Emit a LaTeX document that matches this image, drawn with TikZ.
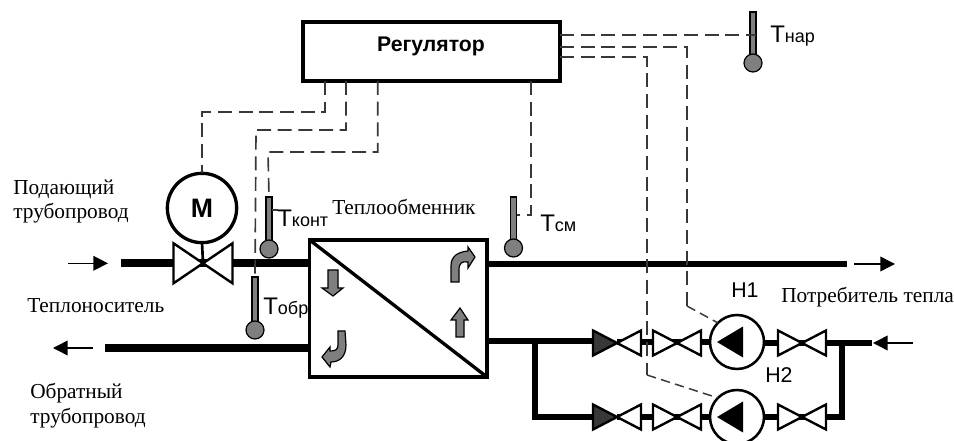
\documentclass[tikz,border=0pt]{standalone}
\usepackage{fontspec}
\setmainfont{Liberation Serif}
\setsansfont{Liberation Sans}
\usetikzlibrary{arrows.meta}
\definecolor{thermgray}{HTML}{7F7F7F}
\definecolor{wiregray}{HTML}{383838}
\newcommand{\Tname}[1]{{\sffamily\fontsize{18}{20}\selectfont Т\fontsize{13.5}{15}\selectfont #1}}
\newcommand{\Valve}[5]{%
  \node[valvebox,minimum width=#3*1.5pt,minimum height=#4*1.5pt] (#1) at (#2) {};
  \draw[valveline,fill=#5,shift={(#2)}] (-#3,-#4) -- (0,0) -- (-#3,#4) -- cycle;
  \draw[valveline,fill=white,shift={(#2)}] (#3,-#4) -- (0,0) -- (#3,#4) -- cycle;
}
\newcommand{\Pump}[2]{%
  \node[pumpbox] (#1) at (#2) {};
  \fill[shift={(#2)}] (-20,0) -- (6,-15.5) -- (6,15.5) -- cycle;
}
\newcommand{\Thermo}[4]{%
  \node[stembox,minimum height=(#4-#3)*0.75pt] (#1-stem) at (#2,#3) {};
  \node[bulbbox] (#1) at (#2,#4) {};
}
\tikzset{
  pipe/.style={line width=3.9pt},
  mainpipe/.style={line width=6pt},
  signal/.style={draw=wiregray,line width=1.25pt,dash pattern=on 10.5pt off 5pt},
  shortsignal/.style={draw=wiregray,line width=1.1pt,dash pattern=on 7pt off 4pt},
  flow/.style={line width=1.1pt,-{Triangle[length=11pt,width=11pt]}},
  valvebox/.style={inner sep=0pt,outer sep=0pt},
  valveline/.style={draw,line width=1.8pt},
  pumpbox/.style={circle,draw,fill=white,line width=1.9pt,minimum size=40.5pt,inner sep=0pt,outer sep=0pt},
  stembox/.style={draw,fill=thermgray,line width=0.9pt,minimum width=4.5pt,inner sep=0pt,outer sep=0pt,anchor=north},
  bulbbox/.style={circle,draw,fill=thermgray,line width=0.9pt,minimum size=13.5pt,inner sep=0pt,outer sep=0pt},
  gravarrow/.style={draw,fill=thermgray,line width=0.9pt,line join=miter},
  textlab/.style={anchor=base west,inner sep=0pt,font=\fontsize{16}{18}\selectfont},
  tlab/.style={anchor=base west,inner sep=0pt},
  numlab/.style={anchor=base west,inner sep=0pt,font=\sffamily\fontsize{16}{18}\selectfont},
}
\begin{document}
\begin{tikzpicture}[x=0.75pt,y=-0.75pt]
\clip (0,0) rectangle (954,441);
\node[draw,fill=white,line width=3pt,minimum width=193pt,minimum height=44.25pt,inner sep=0pt,outer sep=0pt] (Reg) at (431.5,51.5) {};
\node[anchor=base,inner sep=0pt,font=\sffamily\bfseries\fontsize{15.9}{17}\selectfont] (reg-name) at (431,52) {Регулятор};
\node[draw,fill=white,line width=2.5pt,minimum width=133pt,minimum height=102.75pt,inner sep=0pt,outer sep=0pt] (HX) at (398.3,308.5) {};
\node[circle,draw,fill=white,line width=2.5pt,minimum size=52pt,inner sep=0pt,outer sep=0pt,
      font=\sffamily\bfseries\fontsize{20}{22}\selectfont] (Motor) at (202,208) {М};

\coordinate (in-start) at (121,263.3);
\coordinate (out-end) at (105,348);
\coordinate (sup-end) at (847,264);
\coordinate (ret-end) at (872,343);
\coordinate (ret-joint) at (842,343);
\coordinate (hx-tap) at (535,341);
\coordinate (flow-in-a) at (68,263.3);
\coordinate (flow-in-b) at (108,263.3);
\coordinate (flow-out-a) at (93,348);
\coordinate (flow-out-b) at (53,348);
\coordinate (flow-sup-a) at (854,264);
\coordinate (flow-sup-b) at (895,264);
\coordinate (flow-ret-a) at (913,343);
\coordinate (flow-ret-b) at (873,343);

% pipes first, fittings sit on top
\path[mainpipe] (in-start) edge (203,263.3);
\path[mainpipe] (203,263.3) edge (HX.west |- in-start);
\path[mainpipe] (HX.west |- out-end) edge (out-end);
\path[pipe] (HX.east |- sup-end) edge (sup-end);
\draw[pipe] (HX.east |- hx-tap) -- (593,341);
\draw[pipe] (hx-tap) |- (593,417);
\draw[pipe] (617,342) -- (737,342);
\draw[pipe] (617,417) -- (737,417);
\draw[pipe] (737,343) -- (ret-end);
\draw[pipe] (737,417) -| (ret-joint);

\Valve{VM}{203,263.3}{29.5}{20}{white}
\Valve{V1a}{617,343}{24}{12.5}{wiregray}
\Valve{V2a}{677,343}{24}{12.5}{white}
\Valve{V3a}{802,343}{24}{12.5}{white}
\Valve{V1b}{617,417}{24}{12.5}{wiregray}
\Valve{V2b}{677,417}{24}{12.5}{white}
\Valve{V3b}{802,417}{24}{12.5}{white}
\Pump{H1}{737,342}
\Pump{H2}{737,417}

\Thermo{Tkont}{269}{197}{249}
\Thermo{Tobr}{255}{277}{330}
\Thermo{Tsm}{513.5}{197}{248}
\Thermo{Tnar}{753}{12}{63}

\draw[line width=2.5pt] (HX.north west) -- (HX.south east);
\draw[line width=2pt] (Motor.south) -- (VM.center);

\path[flow] (flow-in-a) edge (flow-in-b);
\path[flow] (flow-out-a) edge (flow-out-b);
\path[flow] (flow-sup-a) edge (flow-sup-b);
\path[flow] (flow-ret-a) edge (flow-ret-b);

\coordinate (reg-s1) at (325,81);
\coordinate (reg-s2) at (346,81);
\coordinate (reg-s3) at (377.7,81);
\coordinate (reg-s4) at (531,81);
\coordinate (reg-e1) at (560,35);
\coordinate (reg-e2) at (560,47);
\coordinate (reg-e3) at (560,57);
\coordinate (bend-m) at (202,112);
\coordinate (bend-obr) at (256,130);
\coordinate (bend-kont) at (268,152);
\coordinate (bend-sm) at (531,215);
\coordinate (bend-h1) at (687,47);
\coordinate (bend-h1b) at (687,306);
\coordinate (bend-h2) at (647,57);
\coordinate (bend-h2b) at (647,375);
\coordinate (kont-tick) at (278,210);

\draw[signal] (reg-s1) |- (bend-m) -- (Motor.north);
\draw[signal] (reg-s2) |- (bend-obr) -- (Tobr-stem.north);
\draw[signal] (reg-s3) |- (bend-kont) -- (Tkont-stem.north);
\draw[signal] (reg-s4) -- (bend-sm) -- (Tsm-stem.east |- bend-sm);
\draw[signal] (reg-e1) -- (Tnar-stem.east |- reg-e1);
\draw[signal] (reg-e2) -- (bend-h1) -- (bend-h1b);
\draw[signal] (reg-e3) -- (bend-h2) -- (bend-h2b);
\draw[shortsignal] (bend-h1b) -- (H1.north west);
\draw[shortsignal] (bend-h2b) -- (H2.north west);
\draw[line width=0.8pt,wiregray] (Tkont-stem.east |- kont-tick) -- (kont-tick);

% heat exchanger flow marks
\draw[gravarrow] (328,270) -- (338,270) -- (338,288) -- (343,288) -- (333,296) -- (322,288) -- (328,288) -- cycle;
\draw[gravarrow] (456,337) -- (464,337) -- (464,320) -- (468,320) -- (460,308) -- (451,320) -- (456,320) -- cycle;
\draw[gravarrow] (451,282) -- (451,266) .. controls (451,256) and (458,252) .. (468,251) -- (468,247) -- (475,257) -- (468,268) -- (468,262) .. controls (462,261) and (459,263) .. (459,270) -- (459,282) -- cycle;
\draw[gravarrow] (338,331) -- (338,345) .. controls (338,350) and (335,351) .. (330,351) -- (330,347) -- (322,357) -- (330,367) -- (331,362) .. controls (340,362) and (346,356) .. (346,345) -- (345,331) -- cycle;

\node[textlab] (sup-a) at (13,195) {Подающий};
\node[textlab] (sup-b) at (13,219) {трубопровод};
\node[textlab] (carrier) at (27,313) {Теплоноситель};
\node[textlab] (ret-a) at (30,399) {Обратный};
\node[textlab] (ret-b) at (30,424) {трубопровод};
\node[textlab] (hx-name) at (332,215) {Теплообменник};
\node[textlab] (consumer) at (781,303) {Потребитель тепла};
\node[tlab] (lab-kont) at (277,227) {\Tname{конт}};
\node[tlab] (lab-obr) at (263,315) {\Tname{обр}};
\node[tlab] (lab-sm) at (540,232) {\Tname{см}};
\node[tlab] (lab-nar) at (770,43) {\Tname{нар}};
\node[numlab] (lab-h1) at (731,298) {Н1};
\node[numlab] (lab-h2) at (765,383) {Н2};
\end{tikzpicture}
\end{document}
